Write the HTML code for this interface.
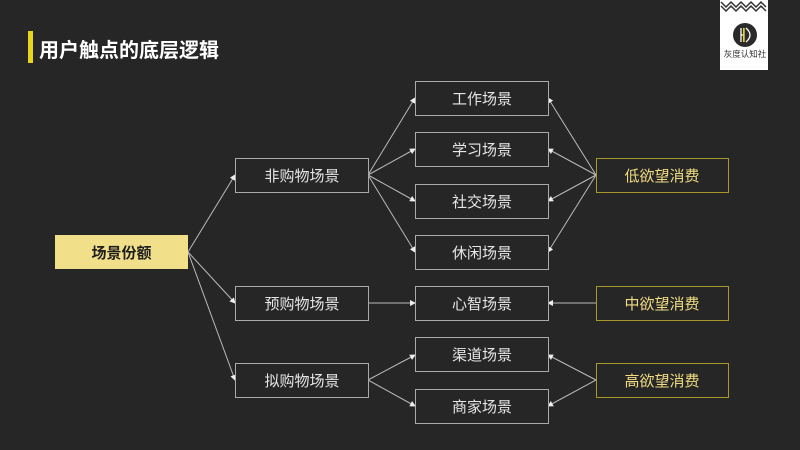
<!DOCTYPE html>
<html><head><meta charset="utf-8"><style>
html,body{margin:0;padding:0;background:#262626;width:800px;height:450px;overflow:hidden}
svg text{font-family:"Liberation Sans","Noto Sans CJK SC",sans-serif}
</style></head><body>
<svg width="800" height="450" viewBox="0 0 800 450" xmlns="http://www.w3.org/2000/svg">
<defs>
<marker id="a" markerWidth="6" markerHeight="6" refX="5" refY="3" orient="auto" markerUnits="userSpaceOnUse"><path d="M0,0 L6,3 L0,6 z" fill="#eee"/></marker>
</defs>
<rect width="800" height="450" fill="#262626"/>
<rect x="28" y="31" width="5" height="32" fill="#e8d41c"/>
<text x="39" y="57" font-size="20" font-weight="bold" fill="#fff" textLength="180" lengthAdjust="spacingAndGlyphs">用户触点的底层逻辑</text>
<!-- logo -->
<rect x="720" y="0" width="48" height="70" fill="#fff"/>
<path d="M721,2 l5,5 l5,-5 l5,5 l5,-5 l5,5 l5,-5 l5,5 l5,-5 l5,5 M721,6 l5,5 l5,-5 l5,5 l5,-5 l5,5 l5,-5 l5,5 l5,-5 l5,5" stroke="#333" stroke-width="1.5" fill="none"/>
<circle cx="745" cy="35" r="12" fill="#2a2a2a"/>
<path d="M741,28 v14 M744,28 v14 M741,35 h3 M746,28 q8,7 0,14" stroke="#fff" stroke-width="1.3" fill="none"/>
<rect x="743" y="28" width="1.5" height="14" fill="#e8d41c"/>
<text x="745" y="57" font-size="8.5" fill="#333" text-anchor="middle">灰度认知社</text>
<g stroke="#bbb" stroke-width="1" fill="none" marker-end="url(#a)">
<line x1="188" y1="252" x2="235" y2="175"/>
<line x1="188" y1="252" x2="235" y2="303"/>
<line x1="188" y1="252" x2="235" y2="380"/>
<line x1="368" y1="175" x2="415" y2="98"/>
<line x1="368" y1="175" x2="415" y2="149"/>
<line x1="368" y1="175" x2="415" y2="201"/>
<line x1="368" y1="175" x2="415" y2="252"/>
<line x1="368" y1="303" x2="415" y2="303"/>
<line x1="368" y1="380" x2="415" y2="355"/>
<line x1="368" y1="380" x2="415" y2="406"/>
<line x1="596" y1="175" x2="548" y2="98"/>
<line x1="596" y1="175" x2="548" y2="149"/>
<line x1="596" y1="175" x2="548" y2="201"/>
<line x1="596" y1="175" x2="548" y2="252"/>
<line x1="596" y1="303" x2="548" y2="303" stroke="#888" stroke-width="1.5"/>
<line x1="596" y1="380" x2="548" y2="355"/>
<line x1="596" y1="380" x2="548" y2="406"/>
</g>
<rect x="55" y="235" width="133" height="34" fill="#f2df8a"/>
<text x="121.5" y="258" font-size="15" font-weight="bold" fill="#1e1e1e" text-anchor="middle">场景份额</text>
<g fill="#262626" stroke="#aaa" stroke-width="1">
<rect x="235.5" y="158.5" width="133" height="34"/>
<rect x="235.5" y="286.5" width="133" height="34"/>
<rect x="235.5" y="363.5" width="133" height="34"/>
<rect x="415.5" y="81.5" width="133" height="34"/>
<rect x="415.5" y="132.5" width="133" height="34"/>
<rect x="415.5" y="184.5" width="133" height="34"/>
<rect x="415.5" y="235.5" width="133" height="34"/>
<rect x="415.5" y="286.5" width="133" height="34"/>
<rect x="415.5" y="337.5" width="133" height="34"/>
<rect x="415.5" y="389.5" width="133" height="34"/>
</g>
<g fill="#262626" stroke="#a89a2a" stroke-width="1">
<rect x="596.5" y="158.5" width="132" height="34"/>
<rect x="596.5" y="286.5" width="132" height="34"/>
<rect x="596.5" y="363.5" width="132" height="34"/>
</g>
<g font-size="15" fill="#e6e6e6" text-anchor="middle">
<text x="302" y="181">非购物场景</text>
<text x="302" y="309">预购物场景</text>
<text x="302" y="386">拟购物场景</text>
<text x="482" y="104">工作场景</text>
<text x="482" y="155">学习场景</text>
<text x="482" y="207">社交场景</text>
<text x="482" y="258">休闲场景</text>
<text x="482" y="309">心智场景</text>
<text x="482" y="360">渠道场景</text>
<text x="482" y="412">商家场景</text>
</g>
<g font-size="15" fill="#f0dc82" text-anchor="middle">
<text x="662" y="181">低欲望消费</text>
<text x="662" y="309">中欲望消费</text>
<text x="662" y="386">高欲望消费</text>
</g>
</svg>
</body></html>
